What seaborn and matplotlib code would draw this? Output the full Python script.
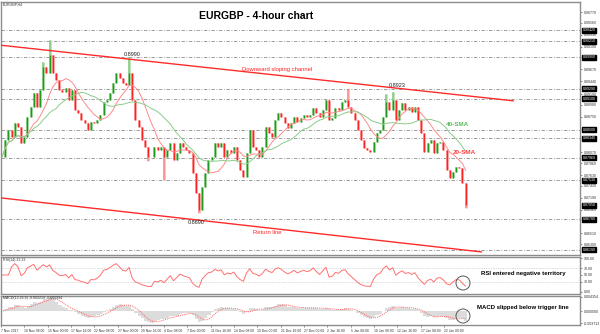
import numpy as np
import pandas as pd
import matplotlib
matplotlib.use("Agg")
import matplotlib.pyplot as plt
import seaborn as sns
from matplotlib.patches import Ellipse

# ---------------- data ----------------
closes = [
    0.8798, 0.8831, 0.8850, 0.8836, 0.8863, 0.8856, 0.8825, 0.8836, 0.8875, 0.8894,
    0.8921, 0.8894, 0.8927, 0.8971, 0.8960, 0.8994, 0.8960, 0.8946, 0.8927, 0.8923,
    0.8931, 0.8908, 0.8927, 0.8888, 0.8883, 0.8869, 0.8863, 0.8850, 0.8865, 0.8863,
    0.8869, 0.8879, 0.8904, 0.8908, 0.8921, 0.8940, 0.8960, 0.8950, 0.8940, 0.8937,
    0.8960, 0.8908, 0.8869, 0.8856, 0.8831, 0.8817, 0.8798, 0.8798, 0.8817, 0.8811,
    0.8817, 0.8798, 0.8811, 0.8825, 0.8792, 0.8806, 0.8825, 0.8817, 0.8811, 0.8806,
    0.8767, 0.8728, 0.8696, 0.8740, 0.8767, 0.8792, 0.8798, 0.8825, 0.8817, 0.8825,
    0.8798, 0.8811, 0.8806, 0.8817,
    0.8792, 0.8773, 0.8759, 0.8806, 0.8850, 0.8817, 0.8811, 0.8798, 0.8817, 0.8856,
    0.8844, 0.8836, 0.8869, 0.8883, 0.8875, 0.8863, 0.8854, 0.8863, 0.8875, 0.8865,
    0.8873, 0.8879, 0.8875, 0.8879, 0.8892, 0.8883, 0.8875, 0.8888, 0.8908, 0.8869,
    0.8873, 0.8892, 0.8888, 0.8904, 0.8908, 0.8894, 0.8883, 0.8869, 0.8850, 0.8831,
    0.8815, 0.8811, 0.8807, 0.8827, 0.8844, 0.8850, 0.8875, 0.8904, 0.8888, 0.8908,
    0.8869, 0.8888, 0.8902, 0.8888, 0.8894, 0.8885, 0.8894, 0.8869, 0.8844, 0.8807,
    0.8825, 0.8831, 0.8806, 0.8825, 0.8827, 0.8811, 0.8773, 0.8757, 0.8769, 0.8779,
    0.8777, 0.8748, 0.8705,
]
high_marks = {15: 0.9023, 40: 0.8990, 13: 0.8980, 109: 0.8929, 121: 0.8920, 123: 0.8923}
low_marks = {62: 0.8690, 51: 0.8754, 46: 0.8790, 146: 0.8700}

levels = [0.9042, 0.9021, 0.8990, 0.8929, 0.8910, 0.8850, 0.8834, 0.8796,
          0.8753, 0.8678, 0.8619]
price_ticks = [0.9077, 0.9056, 0.9033, 0.9010, 0.8967, 0.8944, 0.8919, 0.8898,
               0.8875, 0.8807, 0.8786, 0.8763, 0.8742, 0.8719, 0.8696, 0.8651,
               0.8630]

# channel lines: (bar index, price) endpoints
upper_channel_x = [-0.3, 161.0]
upper_channel_y = [0.9013, 0.8906]
lower_channel_x = [-0.3, 151.0]
lower_channel_y = [0.8719, 0.8615]

time_labels = ["7 Nov 2017", "10 Nov 08:00", "15 Nov 00:00", "17 Nov 16:00",
               "22 Nov 08:00", "27 Nov 00:00", "29 Nov 16:00", "4 Dec 08:00",
               "7 Dec 00:00", "11 Dec 16:00", "14 Dec 08:00", "19 Dec 00:00",
               "21 Dec 16:00", "27 Dec 00:00", "2 Jan 16:00", "5 Jan 08:00",
               "10 Jan 00:00", "12 Jan 16:00", "17 Jan 08:00", "22 Jan 00:00"]

# ---------------- derived ----------------
n = len(closes)
idx = np.arange(n)
c = pd.Series(closes)
o = c.shift(1).fillna(c.iloc[0])
hi = np.maximum(o, c).to_numpy().copy()
lo = np.minimum(o, c).to_numpy().copy()
for k, v in high_marks.items():
    hi[k] = max(hi[k], v)
for k, v in low_marks.items():
    lo[k] = min(lo[k], v)
up = (c >= o).to_numpy()

sma20 = c.rolling(9, min_periods=1).mean()
sma40 = c.rolling(18, min_periods=1).mean()

d = c.diff().fillna(0)
g = d.clip(lower=0).ewm(alpha=1 / 6, adjust=False).mean()
l = (-d.clip(upper=0)).ewm(alpha=1 / 6, adjust=False).mean()
rsi = 100 - 100 / (1 + g / l.replace(0, np.nan))
rsi = rsi.fillna(50)

macd = c.ewm(span=5, adjust=False).mean() - c.ewm(span=12, adjust=False).mean()
signal = macd.rolling(4, min_periods=1).mean()

df = pd.DataFrame({"i": idx, "close": c, "sma20": sma20, "sma40": sma40,
                   "rsi": rsi, "macd": macd, "signal": signal})

# ---------------- style ----------------
sns.set_theme(style="white")
plt.rcParams["font.family"] = ["Liberation Sans", "DejaVu Sans"]

W, H = 600, 334
fig = plt.figure(figsize=(6, 3.34), dpi=100)
fx = lambda px: px / W
fy = lambda py: 1 - py / H

ax = fig.add_axes([fx(1), fy(255), fx(580) - fx(1), fy(2) - fy(255)])
ax_r = fig.add_axes([fx(1), fy(294), fx(580) - fx(1), fy(257) - fy(294)])
ax_m = fig.add_axes([fx(1), fy(325), fx(580) - fx(1), fy(296) - fy(325)])

xlim = (-0.32, 182.0)
for a in (ax, ax_r, ax_m):
    a.set_xlim(*xlim)
    for s in a.spines.values():
        s.set_color("#8c8c8c")
        s.set_linewidth(1.0)
    a.yaxis.tick_right()
    a.tick_params(axis="y", labelsize=2.6, length=1.5, width=0.4, pad=1,
                  colors="#333333", right=True, left=False)
    a.tick_params(axis="x", length=0, labelsize=2.4)
    a.set_facecolor("white")

# ---- main panel ----
ax.set_ylim(0.86091, 0.90963)
for lv in levels:
    ax.axhline(lv, color="#8a8a8a", lw=0.6, ls=(0, (4, 2, 1, 2)), zorder=1)

pale = np.where(up, "#b6e2b0", "#ffbcbc")
solid = np.where(up, "#1f9a1f", "#ff2222")
ax.vlines(idx, lo, hi, colors=pale, lw=2.0, zorder=2)
ax.vlines(idx, np.minimum(o, c), np.maximum(o, c) + 1e-5, colors=solid, lw=1.0, zorder=3)
ax.vlines(idx, lo, hi, colors=solid, lw=0.35, zorder=3)

sns.lineplot(data=df, x="i", y="sma20", ax=ax, color="#ff8a8a", lw=0.7, zorder=4)
sns.lineplot(data=df, x="i", y="sma40", ax=ax, color="#8ccc8c", lw=0.7, zorder=4)

ax.plot(upper_channel_x, upper_channel_y, color="#ff2b2b", lw=1.0, zorder=5)
ax.plot(lower_channel_x, lower_channel_y, color="#ff2b2b", lw=1.0, zorder=5)

ax.set_yticks(price_ticks)
ax.set_yticklabels([f"{v:.5f}" for v in price_ticks])
ax.set_xticks([])
ax.set_xlabel("")
ax.set_ylabel("")

for lv in levels + [closes[-1]]:
    ax.annotate(f"{lv:.5f}", xy=(1.005, lv), xycoords=("axes fraction", "data"),
                fontsize=2.6, color="white", va="center", ha="left",
                bbox=dict(boxstyle="square,pad=0.15", fc="black", ec="black"),
                annotation_clip=False)

# ---- RSI panel ----
ax_r.set_ylim(-6, 103)
for lv in (70, 30):
    ax_r.axhline(lv, color="#b8b8b8", lw=0.5, ls=(0, (1, 1.5)))
sns.lineplot(data=df, x="i", y="rsi", ax=ax_r, color="#ff7070", lw=0.7)
ax_r.set_yticks([100, 70, 50, 30, 0])
ax_r.set_yticklabels(["100.00", "70.00", "50.00", "30.00", "0.00"])
ax_r.set_xticks([])
ax_r.set_xlabel("")
ax_r.set_ylabel("")

# ---- MACD panel ----
ax_m.set_ylim(-0.00433, 0.00466)
ax_m.bar(df["i"], df["macd"], width=1.0, color="#dcdcdc", edgecolor="none")
sns.lineplot(data=df, x="i", y="signal", ax=ax_m, color="#ff6060", lw=0.7,
             linestyle=(0, (1, 1)))
ax_m.set_yticks([0.004354, 0.0, -0.003713])
ax_m.set_yticklabels(["0.004354", "0.000000", "-0.003713"])
ticks = [-0.6 + 7.35 * k for k in range(len(time_labels))]
ax_m.set_xticks(ticks)
ax_m.set_xticklabels(time_labels, ha="left")
ax_m.tick_params(axis="x", pad=1.2, colors="#333333", length=1.5, width=0.4, bottom=True)
ax_m.set_xlabel("")
ax_m.set_ylabel("")

# ---------------- texts ----------------
fig.text(fx(3), fy(5), "EURGBP,H4", fontsize=2.6, color="#333333", va="center")
fig.text(fx(256), fy(16), "EURGBP - 4-hour chart", fontsize=7.5, fontweight="bold",
         ha="center", va="center", color="black")
fig.text(fx(132), fy(55), "0.8990", fontsize=4.0, ha="center", va="center", color="#222222")
fig.text(fx(397), fy(86), "0.8923", fontsize=4.0, ha="center", va="center", color="#222222")
fig.text(fx(196), fy(223), "0.8690", fontsize=4.0, ha="center", va="center", color="#222222")
fig.text(fx(277), fy(69), "Downward sloping channel", fontsize=4.2, ha="center",
         va="center", color="#ff2020")
fig.text(fx(267), fy(232), "Return line", fontsize=4.2, ha="center", va="center",
         color="#ff2020")
fig.text(fx(458), fy(124), "40-SMA", fontsize=4.6, fontweight="bold", ha="center",
         va="center", color="#5cb85c")
fig.text(fx(464), fy(152), "20-SMA", fontsize=4.6, fontweight="bold", ha="center",
         va="center", color="#ff4040")
fig.text(fx(3), fy(260), "RSI(14) 23.33", fontsize=2.6, color="#333333", va="center")
fig.text(fx(3), fy(298), "MACD(12,26,9) -0.002219 -0.000994", fontsize=2.6,
         color="#333333", va="center")
fig.text(fx(523), fy(273), "RSI entered negative territory", fontsize=4.3,
         fontweight="bold", ha="center", va="center", color="black")
fig.text(fx(523), fy(307), "MACD slipped below trigger line", fontsize=4.3,
         fontweight="bold", ha="center", va="center", color="black")

for cy in (283, 316):
    fig.add_artist(Ellipse((fx(463), fy(cy)), 14 / W, 14 / H, transform=fig.transFigure,
                           fill=False, ec="#555555", lw=0.7))

fig.savefig("out.png", dpi=100, facecolor="white")
